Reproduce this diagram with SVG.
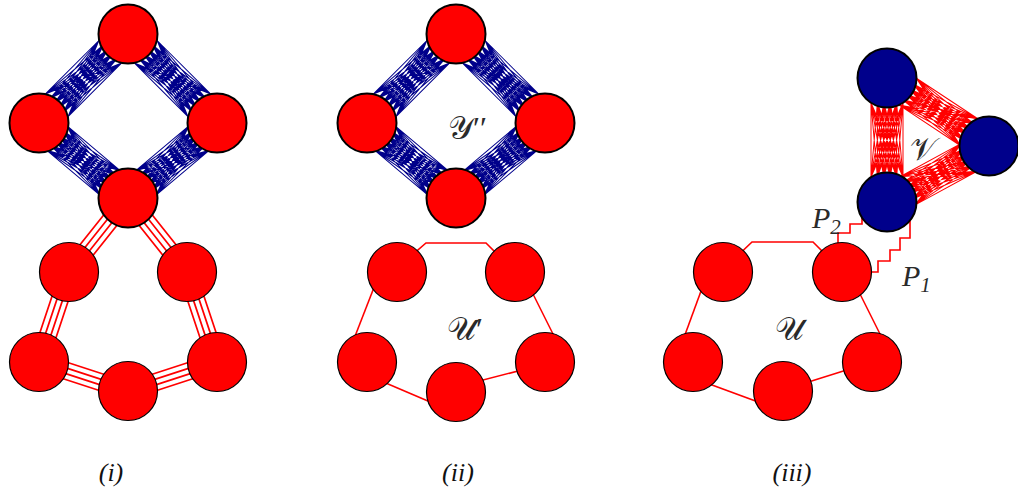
<svg xmlns="http://www.w3.org/2000/svg" xmlns:xlink="http://www.w3.org/1999/xlink" width="1018" height="489" viewBox="0 0 1018 489">
<style>
.bb{stroke:#00008b;stroke-width:1;fill:none}
.rb{stroke:#ff0000;stroke-width:1;fill:none}
.r4{stroke:#ff0000;stroke-width:1.7;fill:none}
.e{stroke:#ff0000;stroke-width:1.6;fill:none}
.nr{fill:#ff0000;stroke:#000;stroke-width:2}
.nt{fill:#ff0000;stroke:#000;stroke-width:1.2}
.nb{fill:#00008b;stroke:#000;stroke-width:2}
.lab{font-family:"DejaVu Serif","DejaVu Sans","Liberation Serif",serif;font-size:32px;fill:#2a2a2a}
.pr{font-family:"Liberation Serif",serif;font-size:32px;fill:#2a2a2a}
.p{font-family:"Liberation Serif",serif;font-style:italic;font-size:30px;fill:#2a2a2a}
.cap{font-family:"Liberation Serif",serif;font-style:italic;font-size:26px;fill:#111;text-anchor:middle}
</style>
<defs>
<path id="bun" d="M20 -16L80 -16M20 -16L80 -9.6M20 -16L80 -3.2M20 -16L80 3.2M20 -16L80 9.6M20 -16L80 16M20 -9.6L80 -16M20 -9.6L80 -9.6M20 -9.6L80 -3.2M20 -9.6L80 3.2M20 -9.6L80 9.6M20 -9.6L80 16M20 -3.2L80 -16M20 -3.2L80 -9.6M20 -3.2L80 -3.2M20 -3.2L80 3.2M20 -3.2L80 9.6M20 -3.2L80 16M20 3.2L80 -16M20 3.2L80 -9.6M20 3.2L80 -3.2M20 3.2L80 3.2M20 3.2L80 9.6M20 3.2L80 16M20 9.6L80 -16M20 9.6L80 -9.6M20 9.6L80 -3.2M20 9.6L80 3.2M20 9.6L80 9.6M20 9.6L80 16M20 16L80 -16M20 16L80 -9.6M20 16L80 -3.2M20 16L80 3.2M20 16L80 9.6M20 16L80 16"/>
<path id="four" d="M0 -8.4H100M0 -2.8H100M0 2.8H100M0 8.4H100"/>
</defs>
<g id="connectors">
<use href="#bun" class="bb" transform="translate(128,34) rotate(135) scale(1.259,1)"/>
<use href="#bun" class="bb" transform="translate(128,34) rotate(45) scale(1.259,1)"/>
<use href="#bun" class="bb" transform="translate(39,123) rotate(40.12) scale(1.164,1)"/>
<use href="#bun" class="bb" transform="translate(217,123) rotate(139.88) scale(1.164,1)"/>
<use href="#four" class="r4" transform="translate(128,198) rotate(128.57) scale(0.9464,1)"/>
<use href="#four" class="r4" transform="translate(128,198) rotate(51.43) scale(0.9464,1)"/>
<use href="#four" class="r4" transform="translate(69,272) rotate(108.43) scale(0.9487,1)"/>
<use href="#four" class="r4" transform="translate(187,272) rotate(71.57) scale(0.9487,1)"/>
<use href="#four" class="r4" transform="translate(39,362) rotate(18.05) scale(0.936,1)"/>
<use href="#four" class="r4" transform="translate(128,391) rotate(-18.05) scale(0.936,1)"/>
<use href="#bun" class="bb" transform="translate(456,34) rotate(135) scale(1.259,1)"/>
<use href="#bun" class="bb" transform="translate(456,34) rotate(45) scale(1.259,1)"/>
<use href="#bun" class="bb" transform="translate(367,123) rotate(40.12) scale(1.164,1)"/>
<use href="#bun" class="bb" transform="translate(545,123) rotate(139.88) scale(1.164,1)"/>
<polyline class="e" points="404,262 426,243 486,243 502,259"/>
<line class="e" x1="380" y1="272" x2="345" y2="362"/>
<line class="e" x1="522" y1="272" x2="567" y2="362"/>
<line class="e" x1="367" y1="375" x2="456" y2="413"/>
<line class="e" x1="456" y1="387" x2="545" y2="364"/>
<use href="#bun" class="rb" transform="translate(887,78) rotate(90) scale(1.24,1)"/>
<use href="#bun" class="rb" transform="translate(887,78) rotate(33.43) scale(1.234,1)"/>
<use href="#bun" class="rb" transform="translate(887,202) rotate(-28.53) scale(1.172,1)"/>
<polyline class="e" points="731,262 752,242 813,242 829,258"/>
<line class="e" x1="708" y1="272" x2="675" y2="362"/>
<line class="e" x1="849" y1="272" x2="894" y2="362"/>
<line class="e" x1="693" y1="378" x2="783" y2="411"/>
<line class="e" x1="783" y1="390" x2="872" y2="362"/>
<polyline class="e" points="838,252 838,233 850,233 850,224 862,224 862,210"/>
<polyline class="e" points="862,272 878,272 878,261 890,261 890,250 900,250 900,238 910,238 910,215"/>
</g>
<g id="i-top"><circle class="nr" cx="128" cy="34" r="29.5"/></g>
<g id="i-left"><circle class="nr" cx="39" cy="123" r="29.5"/></g>
<g id="i-right"><circle class="nr" cx="217" cy="123" r="29.5"/></g>
<g id="i-bottom"><circle class="nr" cx="128" cy="198" r="29.5"/></g>
<g id="i-u1"><circle class="nt" cx="69" cy="272" r="29.5"/></g>
<g id="i-u2"><circle class="nt" cx="187" cy="272" r="29.5"/></g>
<g id="i-u3"><circle class="nt" cx="39" cy="362" r="29.5"/></g>
<g id="i-u4"><circle class="nt" cx="217" cy="362" r="29.5"/></g>
<g id="i-u5"><circle class="nt" cx="128" cy="391" r="29.5"/></g>
<g id="ii-top"><circle class="nr" cx="456" cy="34" r="29.5"/></g>
<g id="ii-left"><circle class="nr" cx="367" cy="123" r="29.5"/></g>
<g id="ii-right"><circle class="nr" cx="545" cy="123" r="29.5"/></g>
<g id="ii-bottom"><circle class="nr" cx="456" cy="198" r="29.5"/></g>
<g id="ii-u1"><circle class="nt" cx="397" cy="272" r="29.5"/></g>
<g id="ii-u2"><circle class="nt" cx="515" cy="272" r="29.5"/></g>
<g id="ii-u3"><circle class="nt" cx="367" cy="362" r="29.5"/></g>
<g id="ii-u4"><circle class="nt" cx="545" cy="362" r="29.5"/></g>
<g id="ii-u5"><circle class="nt" cx="456" cy="392" r="29.5"/></g>
<g id="iii-u1"><circle class="nt" cx="723" cy="272" r="29.5"/></g>
<g id="iii-u2"><circle class="nt" cx="842" cy="272" r="29.5"/></g>
<g id="iii-u3"><circle class="nt" cx="693" cy="362" r="29.5"/></g>
<g id="iii-u4"><circle class="nt" cx="872" cy="362" r="29.5"/></g>
<g id="iii-u5"><circle class="nt" cx="783" cy="391" r="29.5"/></g>
<g id="iii-v1"><circle class="nb" cx="887" cy="78" r="29.5"/></g>
<g id="iii-v2"><circle class="nb" cx="989" cy="146" r="29.5"/></g>
<g id="iii-v3"><circle class="nb" cx="887" cy="202" r="29.5"/></g>
<g id="labels">
<text class="lab" x="448" y="139">𝒴<tspan class="pr">′′</tspan></text>
<text class="lab" x="447" y="340">𝒰<tspan class="pr">′</tspan></text>
<text class="lab" x="775" y="340">𝒰</text>
<text class="lab" x="910" y="160">𝒱</text>
<text class="p" x="812" y="228">P<tspan font-size="21" dy="6">2</tspan></text>
<text class="p" x="902" y="286">P<tspan font-size="21" dy="6">1</tspan></text>
<text class="cap" x="111" y="481">(i)</text>
<text class="cap" x="458" y="481">(ii)</text>
<text class="cap" x="792" y="481">(iii)</text>
</g>
</svg>
